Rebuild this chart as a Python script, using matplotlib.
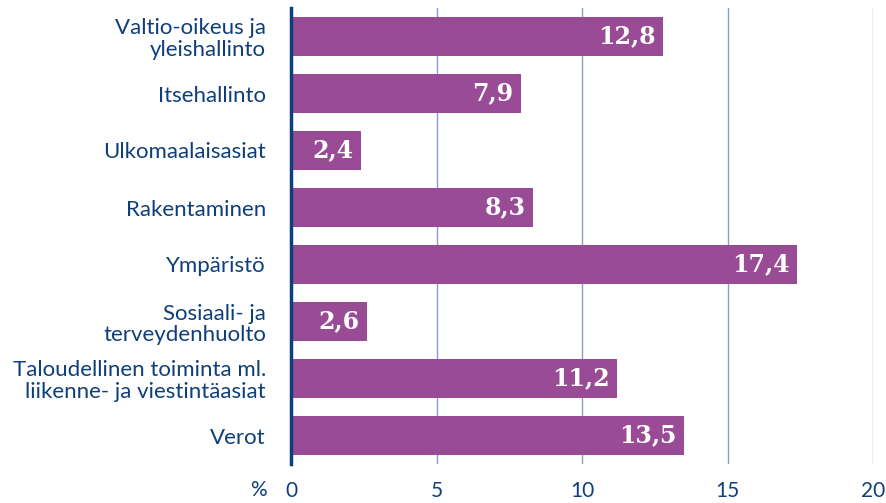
import matplotlib
matplotlib.use('Agg')
import matplotlib.pyplot as plt

categories = ['Valtio-oikeus ja\nyleishallinto', 'Itsehallinto', 'Ulkomaalaisasiat',
              'Rakentaminen', 'Ympäristö', 'Sosiaali- ja\nterveydenhuolto',
              'Taloudellinen toiminta ml.\nliikenne- ja viestintäasiat', 'Verot']
values = [12.8, 7.9, 2.4, 8.3, 17.4, 2.6, 11.2, 13.5]
xticks = [0, 5, 10, 15, 20]

navy = '#0F3F7A'
bar_color = '#994C95'
grid_color = '#8E9CCB'

fig = plt.figure(figsize=(8.86, 5.03), dpi=100)
ax = fig.add_axes([291/886, 1-464/503, (873-291)/886, (464-8)/503])

pos = list(range(len(categories)))
ax.barh(pos, values, height=0.67, color=bar_color, zorder=3)
ax.set_ylim(len(categories)-0.5, -0.5)
ax.set_xlim(0, 20)

for y, v in zip(pos, values):
    ax.text(v - 0.25, y, f'{v:.1f}'.replace('.', ','), ha='right', va='center',
            color='white', fontsize=17, fontweight='bold', family='DejaVu Serif', zorder=4)

ax.set_xticks(xticks)
ax.set_xticklabels([str(t) for t in xticks], color=navy, fontsize=15, family='Lato')
ax.set_yticks(pos)
ax.set_yticklabels(categories, color=navy, fontsize=16, family='Lato', linespacing=1.08)
ax.tick_params(axis='x', length=0, pad=12)
ax.tick_params(axis='y', length=0, pad=18)
ax.grid(axis='x', color=grid_color, linewidth=1, zorder=1)

for s in ['top', 'right', 'bottom']:
    ax.spines[s].set_visible(False)
ax.spines['left'].set_color(navy)
ax.spines['left'].set_linewidth(2.5)
ax.spines['left'].set_zorder(5)

fig.text(258/886, 1-490/503, '%', color=navy, fontsize=15, family='Lato', ha='center', va='center')

fig.savefig('out.png', dpi=100)
